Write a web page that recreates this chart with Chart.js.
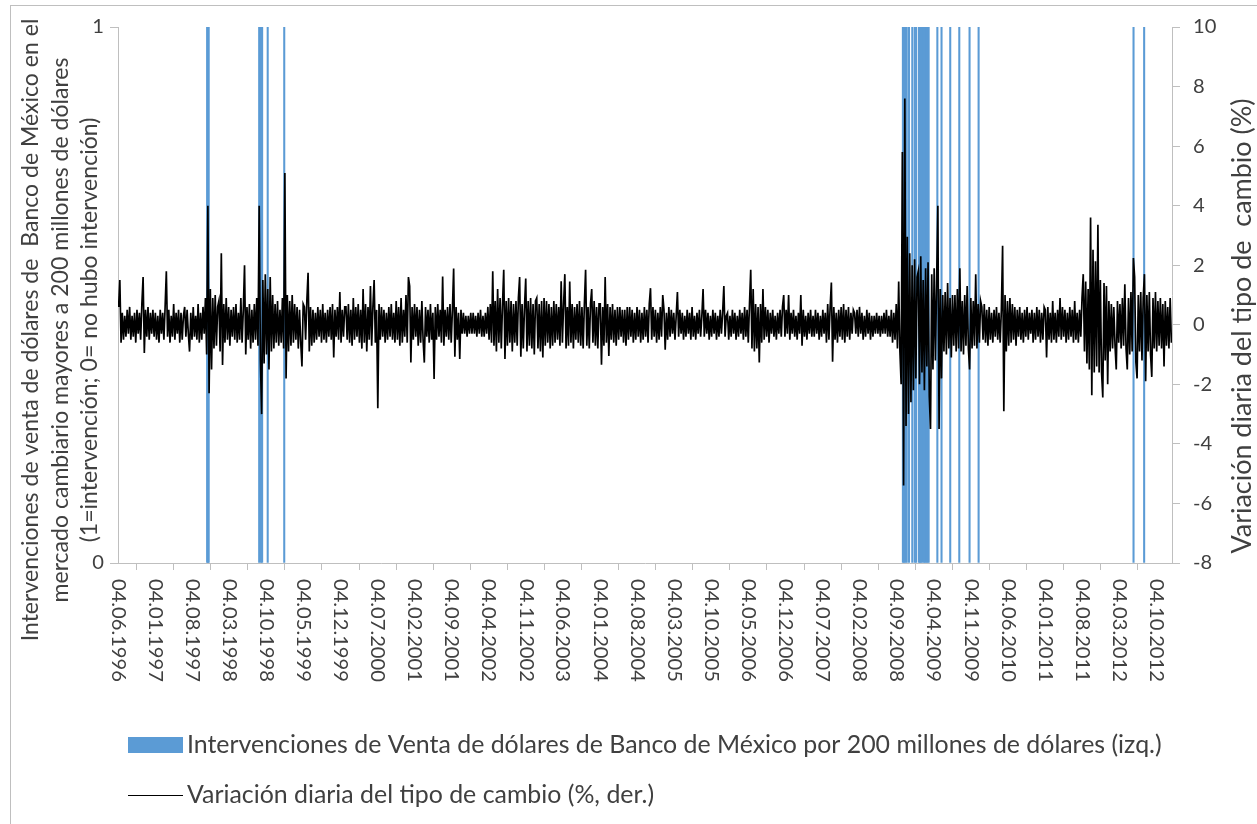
<!DOCTYPE html>
<html><head><meta charset="utf-8">
<script src="https://cdn.jsdelivr.net/npm/chart.js@4.4.1/dist/chart.umd.min.js"></script>
<style>html,body{margin:0;padding:0;background:#fff;overflow:hidden}canvas{display:block}</style>
</head><body>
<canvas id="c" width="1257" height="824"></canvas>
<script>
// ---------- DATA ----------
const tickLabels = ["04.06.1996","04.01.1997","04.08.1997","04.03.1998","04.10.1998","04.05.1999","04.12.1999","04.07.2000","04.02.2001","04.09.2001","04.04.2002","04.11.2002","04.06.2003","04.01.2004","04.08.2004","04.03.2005","04.10.2005","04.05.2006","04.12.2006","04.07.2007","04.02.2008","04.09.2008","04.04.2009","04.11.2009","04.06.2010","04.01.2011","04.08.2011","04.03.2012","04.10.2012"];

const barLabel = "Intervenciones de Venta de dólares de Banco de México por 200 millones de dólares (izq.)";
const lineLabel = "Variación diaria del tipo de cambio (%, der.)";
const leftTitle = ["Intervenciones de venta de dólares de  Banco de México en el","mercado cambiario mayores a 200 millones de dólares","(1=intervención; 0= no hubo intervención)"];
const rightTitle = "Variación diaria del tipo de  cambio (%)";

const interventionDates = ["1997-10-29","1997-11-03","1997-11-07","1998-08-24","1998-09-03","1998-09-10","1998-10-12","1999-01-15","2008-10-08","2008-10-15","2008-10-22","2008-10-30","2008-11-12","2008-12-01","2008-12-15","2008-12-23","2009-01-08","2009-01-14","2009-01-20","2009-01-28","2009-02-06","2009-02-13","2009-02-20","2009-02-26","2009-03-05","2009-04-24","2009-05-18","2009-07-07","2009-08-28","2009-10-26","2009-12-17","2012-05-25","2012-07-25"];
const interventionValues = interventionDates.map(() => 1);

// Daily FX variation (%), sampled through each year
const fx1996 = [0.6,1.5,-0.6,0.4,-0.5,0.3,-0.4,0.5,-0.3,0.6,-0.5,0.3,-0.4,0.4,-0.6,0.5,-0.3,0.4,-0.5,0.7,1.6,-0.95,0.5,-0.4,0.6,-0.5,0.4,-0.3,0.5,-0.4];
const fx1997 = [0.4,-0.5,0.3,-0.6,0.5,-0.3,0.4,-0.5,0.6,1.8,-0.4,0.5,-0.6,0.3,-0.4,0.7,-0.5,0.4,-0.3,0.5,-0.6,0.4,-0.5,0.3,0.6,-0.4,0.5,-0.3,-0.9,0.4,-0.5,0.6,-0.4,0.3,-0.5,0.7,-0.6,0.4,-0.5,0.6,-0.3,0.9,-1.0,4.0,-2.3,1.2,-1.5,0.9,-0.8,1.0,-0.7,0.6];
const fx1998 = [0.8,-0.9,2.4,-1.35,0.7,-0.6,0.9,-0.5,0.6,-0.7,0.5,-0.4,0.6,-0.5,0.7,-0.6,0.4,-0.5,0.9,-0.6,0.5,2.0,-1.0,0.6,-0.5,0.7,-0.8,0.5,-0.6,0.7,-0.5,0.9,-0.7,4.0,-1.2,-3.0,1.5,-1.3,1.7,-1.0,1.2,-1.5,1.6,-0.9,1.0,-0.8,0.7,-0.6,0.8,-0.7,0.5,-0.6];
const fx1999 = [0.9,-0.8,5.1,-1.8,1.0,-0.9,0.8,-0.7,1.0,-0.6,0.7,-0.5,0.6,-0.8,0.5,-0.6,-1.4,0.7,0.6,-0.5,0.8,1.75,-0.9,0.6,-0.7,0.5,-0.6,0.4,-0.5,0.6,-0.4,0.5,-0.6,0.7,-0.5,0.4,-0.6,0.5,-0.4,0.6,-0.5,0.7,-1.1,0.5,-0.4,0.6,-0.5,1.1,-0.6,0.5,-0.4,0.6];
const fx2000 = [0.6,-0.5,0.7,-0.6,0.5,-0.7,0.9,-0.5,0.6,-0.4,0.7,-0.6,0.5,-0.8,1.2,-0.6,0.7,-0.9,0.6,-0.5,1.3,-0.7,0.6,1.5,-0.6,0.5,-2.8,0.7,-0.5,0.6,-0.4,0.5,-0.6,0.4,-0.5,0.6,-0.4,0.7,-0.5,0.4,-0.6,0.8,-0.5,0.6,-0.7,0.9,-0.6,0.5,-0.4,1.0,-0.6,1.6];
const fx2001 = [1.3,-1.27,0.6,-0.5,0.7,-0.4,0.6,-0.7,0.5,-0.6,0.8,-0.5,-1.27,0.6,-0.4,0.5,-0.6,0.7,-0.5,0.4,-1.82,0.6,-0.5,0.7,-0.4,0.5,-0.6,1.62,-0.7,0.5,-0.4,0.6,-0.5,0.7,-0.6,0.5,1.89,-1.07,0.6,-0.5,0.4,-1.15,0.5,-0.3,0.4,-0.3,0.3,-0.4,0.3,-0.3,0.4,-0.3];
const fx2002 = [0.4,-0.3,0.3,-0.4,0.4,-0.3,0.5,-0.4,0.3,-0.4,0.4,-0.3,0.6,-0.5,0.7,-0.6,1.8,-0.7,0.8,-0.9,1.2,-0.6,0.9,-0.8,0.7,1.85,-1.15,0.8,-0.7,0.9,-0.6,0.8,-0.9,0.7,-0.6,0.8,-0.7,0.9,1.6,-1.07,0.7,-0.8,0.6,1.55,-0.9,0.8,-0.7,0.9,-0.8,0.7,-1.0,0.8];
const fx2003 = [0.9,-0.8,0.7,-0.9,0.8,-1.1,0.9,-0.7,0.8,-0.6,0.7,-0.8,0.6,-0.7,0.8,-0.6,0.7,-0.5,0.6,-0.7,1.46,-0.6,0.7,1.7,-0.8,0.6,-0.7,1.45,-0.6,0.7,-0.8,0.6,-0.5,0.7,-0.6,0.8,-0.7,0.6,-0.8,0.7,1.85,-0.7,0.6,-0.8,0.7,1.2,-0.6,0.8,-0.7,0.6,-0.8,0.7];
const fx2004 = [0.7,-1.34,0.6,-0.7,1.6,-0.6,0.7,-1.05,0.6,-0.5,0.7,-0.6,0.5,-0.7,0.6,-0.5,0.6,-0.4,0.5,-0.6,0.5,-0.7,0.6,-0.5,0.6,-0.4,0.5,-0.6,0.4,-0.5,0.6,-0.4,0.5,-0.6,0.4,-0.5,0.6,-0.4,0.5,-0.6,0.7,1.23,-0.5,0.6,-0.4,0.5,-0.6,0.4,-0.5,0.6,-0.4,1.0];
const fx2005 = [0.5,-0.84,0.4,-0.5,0.6,-0.4,0.5,-0.3,0.4,-0.5,0.3,1.1,-0.4,0.5,-0.3,0.4,-0.5,0.3,-0.4,0.5,-0.3,0.4,-0.5,0.6,-0.4,0.3,-0.5,0.4,-0.3,0.5,-0.4,0.3,1.2,-0.4,0.5,-0.3,0.4,-0.5,0.3,-0.4,0.5,-0.3,0.4,-0.5,0.3,-0.4,0.5,-0.3,0.4,1.3,-0.4,0.3];
const fx2006 = [0.4,-0.5,0.3,-0.4,0.5,-0.3,0.4,-0.5,0.3,-0.4,0.5,-0.3,0.4,-0.5,0.6,-0.4,0.5,-0.6,0.7,1.85,-0.8,1.2,-0.9,0.7,-0.8,0.6,-1.27,0.7,-0.6,1.2,-0.5,0.6,-0.4,0.5,-0.6,0.4,-0.3,0.5,-0.4,0.3,-0.5,0.4,-0.3,0.5,-0.4,0.6,1.0,-0.4,0.5,-0.3,1.0,-0.5];
const fx2007 = [0.4,-0.3,0.5,-0.4,0.3,-0.5,0.4,-0.3,1.0,-0.7,0.5,-0.4,0.3,-0.5,0.4,-0.3,0.5,-0.4,0.3,-0.4,0.5,-0.3,0.4,-0.5,0.3,-0.4,0.5,-0.3,0.4,-0.6,0.7,-0.5,0.6,1.42,-1.24,0.6,-0.5,0.4,-0.6,0.5,-0.4,0.6,-0.5,0.7,-0.6,0.5,-0.4,0.6,-0.5,0.4,-0.3,0.5];
const fx2008 = [0.4,-0.3,0.5,-0.4,0.6,-0.3,0.4,-0.5,0.3,-0.4,0.5,-0.3,0.4,-0.5,0.3,-0.4,0.3,-0.3,0.4,-0.3,0.3,-0.4,0.3,-0.3,0.4,-0.3,0.5,-0.4,0.3,-0.4,0.5,-0.6,0.4,-0.5,0.7,-0.8,1.45,-0.9,-2.0,5.8,-5.4,7.6,-3.4,2.96,-3.0,2.4,-2.6,2.0,-2.2,2.2,-1.8,1.6];
const fx2009 = [1.8,-2.0,2.3,-1.6,1.5,-2.2,1.9,-1.4,2.1,-2.4,-3.5,1.7,-1.5,1.9,-1.2,1.4,4.0,-3.5,1.2,-1.8,1.0,-0.9,1.1,-1.0,1.4,-0.8,0.9,-1.1,1.0,-0.7,1.0,-0.9,1.2,-0.8,1.9,-0.9,0.8,-1.0,1.0,-0.7,1.3,-0.8,-1.5,0.9,-0.8,0.8,-0.7,1.7,-0.8,0.7,-0.6,0.8];
const fx2010 = [0.6,-0.5,0.7,-0.6,0.5,-0.7,0.6,-0.5,0.4,-0.6,0.5,-0.4,0.6,-0.5,0.4,-0.6,0.5,2.65,-2.9,1.0,-0.9,0.8,-0.7,0.9,-0.6,0.7,-0.5,0.6,-0.7,0.5,-0.4,0.6,-0.5,0.4,-0.6,0.5,-0.4,0.6,-0.5,0.4,-0.3,0.5,-0.6,0.4,-0.5,0.6,-0.4,0.5,-0.6,0.4,-0.5,0.6];
const fx2011 = [0.5,-1.1,0.6,-0.5,0.4,-0.6,0.8,-0.5,0.4,-0.6,0.5,-0.4,0.9,-0.5,0.6,-0.4,0.5,-0.6,0.4,-0.5,0.6,-0.4,0.5,-0.6,0.8,-0.5,0.4,-0.6,0.5,-0.4,0.9,1.7,-0.9,1.45,-1.3,1.2,-1.5,3.6,-2.37,2.52,-1.6,2.13,-1.4,3.36,-1.6,1.5,-1.6,-2.44,1.4,-1.2,1.3,-2.0];
const fx2012 = [0.8,-0.9,0.7,-0.8,0.6,-0.7,-1.5,0.8,-0.6,0.7,-0.8,0.9,-0.7,1.36,-0.8,-1.5,0.9,-1.0,1.1,-0.9,2.24,1.6,-1.25,-1.8,1.0,-0.9,1.1,-1.2,0.9,1.7,-1.9,1.0,-0.9,1.1,-1.0,-1.75,0.9,-0.8,1.1,-0.9,0.8,-0.7,0.9,-0.8,0.7,-1.4,0.8,-0.7,0.6,-0.8,0.9,-0.6];

const seriesStart = "1996-06-04";
const seriesEnd = "2013-01-01";

// ---------- helpers ----------
const DAY = 86400000;
const t0 = Date.parse(seriesStart + "T00:00:00Z");
const isoDay = s => (Date.parse(s + "T00:00:00Z") - t0) / DAY;
const dmyDay = s => { const [d,m,y] = s.split('.'); return isoDay(`${y}-${m}-${d}`); };
const xMax = isoDay(seriesEnd);

const fxByYear = [[1996,fx1996],[1997,fx1997],[1998,fx1998],[1999,fx1999],[2000,fx2000],[2001,fx2001],[2002,fx2002],[2003,fx2003],[2004,fx2004],[2005,fx2005],[2006,fx2006],[2007,fx2007],[2008,fx2008],[2009,fx2009],[2010,fx2010],[2011,fx2011],[2012,fx2012]];
const linePoints = [];
fxByYear.forEach(([yr, arr]) => {
  const s = Math.max(0, isoDay(`${yr}-01-01`));
  const e = Math.min(xMax, isoDay(`${yr+1}-01-01`));
  const step = (e - s) / arr.length;
  arr.forEach((v, i) => linePoints.push({x: s + (i + 0.5) * step, y: v}));
});
const barPoints = interventionDates.map((d, i) => ({x: isoDay(d), y: interventionValues[i]}));
const tickDays = tickLabels.map(dmyDay);

const FAMILY = 'Lato, "Open Sans", sans-serif';
const WEIGHT = '400';
const TXT = '#404040';
const AXIS = '#bfbfbf';
const mctx = document.createElement('canvas').getContext('2d');
function fitSize(text, target) { mctx.font = `${WEIGHT} 100px ${FAMILY}`; return 100 * target / mctx.measureText(text).width; }
const legendSize = fitSize(barLabel, 975);
const leftTitleSize = fitSize(leftTitle[1], 545);
const rightTitleSize = fitSize(rightTitle, 455);
const tickSize = fitSize('04.06.1996', 103);
const fontStr = sz => `${WEIGHT} ${sz}px ${FAMILY}`;

const decor = {
  id: 'decor',
  beforeDraw(chart) {
    const c = chart.ctx;
    c.save();
    c.fillStyle = '#fff'; c.fillRect(0, 0, chart.width, chart.height);
    c.strokeStyle = AXIS; c.lineWidth = 1;
    c.strokeRect(10.5, 5.5, 1400, 1000);
    c.restore();
  },
  afterDraw(chart) {
    const c = chart.ctx, xs = chart.scales.x;
    c.save();
    c.fillStyle = TXT;
    // x tick labels rotated clockwise
    c.font = fontStr(tickSize);
    c.textAlign = 'left'; c.textBaseline = 'middle';
    tickLabels.forEach((l, i) => {
      const px = xs.getPixelForValue(tickDays[i]);
      c.save(); c.translate(px, xs.top + 16); c.rotate(Math.PI / 2); c.fillText(l, 0, 0); c.restore();
    });
    // left title
    c.font = fontStr(leftTitleSize);
    c.textAlign = 'center';
    const lx = [31, 61, 90];
    leftTitle.forEach((t, i) => { c.save(); c.translate(lx[i], 330); c.rotate(-Math.PI / 2); c.fillText(t, 0, 0); c.restore(); });
    // right title
    c.font = fontStr(rightTitleSize);
    c.save(); c.translate(1242, 326); c.rotate(-Math.PI / 2); c.fillText(rightTitle, 0, 0); c.restore();
    // legend
    c.font = fontStr(legendSize);
    c.textAlign = 'left';
    c.fillStyle = '#5B9BD5'; c.fillRect(128, 737, 55, 16);
    c.fillStyle = TXT; c.fillText(barLabel, 187, 745);
    c.strokeStyle = '#000'; c.lineWidth = 1;
    c.beginPath(); c.moveTo(128, 795.5); c.lineTo(183, 795.5); c.stroke();
    c.fillText(lineLabel, 187, 795);
    c.restore();
  }
};

new Chart(document.getElementById('c'), {
  type: 'line',
  data: {
    datasets: [
      {type: 'line', label: lineLabel, data: linePoints, yAxisID: 'yR', borderColor: '#000', borderWidth: 1.7, pointRadius: 0, tension: 0, order: 0},
      {type: 'bar', label: barLabel, data: barPoints, yAxisID: 'yL', backgroundColor: '#5B9BD5', barThickness: 1.4, order: 1}
    ]
  },
  options: {
    responsive: false, animation: false, devicePixelRatio: 1,
    layout: {padding: {top: 27, left: 0, right: 0, bottom: 0}},
    plugins: {legend: {display: false}, tooltip: {enabled: false}},
    scales: {
      x: {
        type: 'linear', min: 0, max: xMax, offset: false,
        afterBuildTicks: s => { s.ticks = tickDays.map(v => ({value: v})); },
        ticks: {display: false},
        grid: {display: true, drawOnChartArea: false, drawTicks: true, tickLength: 7, color: AXIS},
        border: {display: true, color: AXIS},
        afterFit: s => { s.height = 261; }
      },
      yL: {
        position: 'left', min: 0, max: 1,
        ticks: {stepSize: 1, padding: 6, color: TXT, font: {family: FAMILY, size: tickSize, weight: WEIGHT}},
        grid: {drawOnChartArea: false, drawTicks: true, tickLength: 8, color: AXIS},
        border: {display: true, color: AXIS},
        afterFit: s => { s.width = 118; }
      },
      yR: {
        position: 'right', min: -8, max: 10,
        ticks: {stepSize: 2, padding: 13, color: TXT, font: {family: FAMILY, size: tickSize, weight: WEIGHT}},
        grid: {drawOnChartArea: false, drawTicks: true, tickLength: 8, color: AXIS},
        border: {display: true, color: AXIS},
        afterFit: s => { s.width = 85; }
      }
    }
  },
  plugins: [decor]
});
</script>
</body></html>
